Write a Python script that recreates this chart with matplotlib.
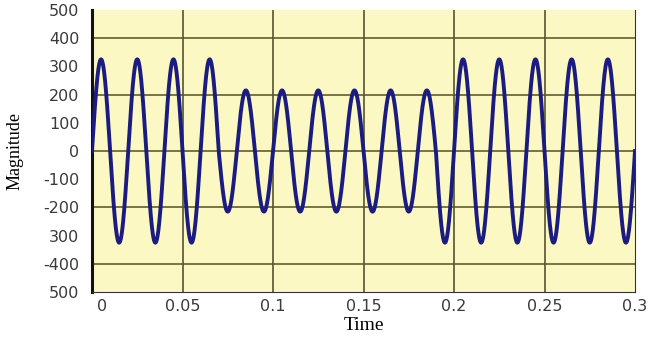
import numpy as np
import matplotlib.pyplot as plt
import matplotlib.transforms as mtransforms

# 50 Hz supply, one peak value per cycle (voltage sag between 0.07 s and 0.19 s)
freq = 50
cycle_start = [0.0, 0.02, 0.04, 0.06, 0.07, 0.09, 0.11, 0.13, 0.15, 0.17,
               0.19, 0.21, 0.23, 0.25, 0.27, 0.29]
cycle_peak = [325, 325, 325, 325, 215, 215, 215, 215, 215, 215,
              325, 325, 325, 325, 325, 325]
t_end = 0.3

ytick_vals = [500, 400, 300, 200, 100, 0, -100, -200, -300, -400, -500]
ytick_text = ["500", "400", "300", "200", "100", "0", "-100", "-200", "300", "-400", "500"]
xtick_vals = [0, 0.05, 0.1, 0.15, 0.2, 0.25, 0.3]
xtick_text = ["0", "0.05", "0.1", "0.15", "0.2", "0.25", "0.3"]

t = np.linspace(0, t_end, 6000)
idx = np.searchsorted(cycle_start, t, side="right") - 1
amp = np.array(cycle_peak)[idx]
v = amp * np.sin(2 * np.pi * freq * t)

fig = plt.figure(figsize=(6.61, 3.38), dpi=100)
ax = fig.add_axes([92 / 661, 1 - 292 / 338, (635 - 92) / 661, (292 - 10) / 338])
ax.set_facecolor("#fbf8c4")

for g in [-400, -200, 0, 200, 400]:
    ax.axhline(g, color="#6b6a3a", lw=1.3, zorder=1)
for g in [0.05, 0.1, 0.15, 0.2, 0.25]:
    ax.axvline(g, color="#55542e", lw=1.2, zorder=1)

ax.plot(t, v, color="#1c1c80", lw=2.8, zorder=3)

ax.set_xlim(0, t_end)
ax.set_ylim(-500, 500)
ax.set_yticks(ytick_vals)
ax.set_yticklabels(ytick_text, fontsize=11.5, family="DejaVu Sans", color="#3a3a3a")
ax.set_xticks(xtick_vals)
ax.set_xticklabels(xtick_text, fontsize=11.5, family="DejaVu Sans", color="#3a3a3a")
ax.tick_params(length=0)
ax.tick_params(axis="y", pad=9)
ax.tick_params(axis="x", pad=5)
# first x label sits a little right of the axis corner
first = ax.get_xticklabels()[0]
first.set_transform(first.get_transform() +
                    mtransforms.ScaledTranslation(10 / 100, 0, fig.dpi_scale_trans))

ax.spines["left"].set_linewidth(2.2)
ax.spines["left"].set_color("#111111")
ax.spines["bottom"].set_color("#333333")
ax.spines["right"].set_color("#333333")
ax.spines["top"].set_visible(False)

ax.set_ylabel("Magnitude", family="Liberation Serif", fontsize=13, labelpad=14)
ax.set_xlabel("Time", family="Liberation Serif", fontsize=14, labelpad=2)

fig.savefig("out.png", dpi=100, facecolor="white")
